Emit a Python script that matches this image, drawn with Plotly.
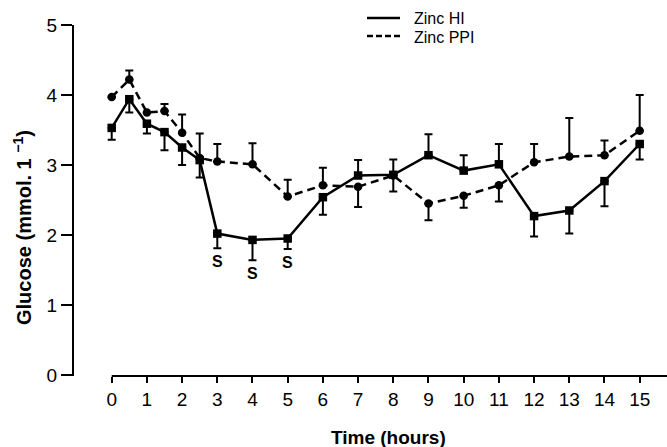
import plotly.graph_objects as go

# ---- data ----
hours = [0, 0.5, 1, 1.5, 2, 2.5, 3, 4, 5, 6, 7, 8, 9, 10, 11, 12, 13, 14, 15]
hi_vals = [3.53, 3.94, 3.59, 3.47, 3.25, 3.07, 2.02, 1.93, 1.95, 2.54, 2.85, 2.86, 3.14, 2.92, 3.01, 2.27, 2.35, 2.77, 3.30]
hi_err_plus = [0, 0, 0, 0, 0, 0, 0, 0, 0, 0, 0.22, 0.22, 0.30, 0.22, 0.29, 0, 0, 0, 0]
hi_err_minus = [0.17, 0.19, 0.14, 0.26, 0.25, 0.25, 0.21, 0.29, 0.15, 0.25, 0, 0, 0, 0, 0, 0.29, 0.33, 0.36, 0.22]
ppi_vals = [3.97, 4.22, 3.75, 3.77, 3.46, 3.10, 3.05, 3.01, 2.55, 2.71, 2.69, 2.85, 2.45, 2.56, 2.71, 3.04, 3.12, 3.14, 3.49]
ppi_err_plus = [0, 0.13, 0, 0.10, 0.26, 0.35, 0.25, 0.30, 0.24, 0.25, 0, 0, 0, 0, 0, 0.26, 0.55, 0.21, 0.51]
ppi_err_minus = [0, 0, 0, 0, 0, 0, 0, 0, 0, 0, 0.29, 0.23, 0.24, 0.17, 0.23, 0, 0, 0, 0]
sig_hours = [3, 4, 5]
sig_label = "S"
x_ticks = list(range(0, 16))
y_ticks = [0, 1, 2, 3, 4, 5]
series_names = ["Zinc HI", "Zinc PPI"]

FONT = "Liberation Sans, Arial, sans-serif"
W, H = 667, 447
ML, MR, MT, MB = 74, 0, 25, 71
PW, PH = W - ML - MR, H - MT - MB


def px_x(p):
    return (p - ML) / PW


def px_y(p):
    return (H - MB - p) / PH


fig = go.Figure()

fig.add_trace(go.Scatter(
    x=hours, y=hi_vals, mode="lines+markers", name=series_names[0],
    line=dict(color="black", width=2.5),
    marker=dict(symbol="square", size=8.5, color="black"),
    error_y=dict(type="data", symmetric=False, array=hi_err_plus, arrayminus=hi_err_minus,
                 color="black", thickness=2, width=4),
    showlegend=False,
))
fig.add_trace(go.Scatter(
    x=hours, y=ppi_vals, mode="lines+markers", name=series_names[1],
    line=dict(color="black", width=2.5, dash="8px,5px"),
    marker=dict(symbol="circle", size=8.5, color="black"),
    error_y=dict(type="data", symmetric=False, array=ppi_err_plus, arrayminus=ppi_err_minus,
                 color="black", thickness=2, width=4),
    showlegend=False,
))

# significance labels under the HI error bars
for h in sig_hours:
    i = hours.index(h)
    fig.add_annotation(x=h, y=hi_vals[i] - hi_err_minus[i], text=sig_label, showarrow=False,
                       yanchor="top", yshift=-3,
                       font=dict(family=FONT, size=16, color="black", weight="bold"))

xmin = -1.071
xmax = 15.776

# x axis line starts at 0
fig.add_shape(type="line", xref="x", yref="paper", x0=0, x1=xmax, y0=0, y1=0,
              line=dict(color="black", width=2))

# custom legend
fig.add_shape(type="line", xref="paper", yref="paper", x0=px_x(367), x1=px_x(400),
              y0=px_y(18), y1=px_y(18), line=dict(color="black", width=2.5))
fig.add_shape(type="line", xref="paper", yref="paper", x0=px_x(367), x1=px_x(400),
              y0=px_y(36), y1=px_y(36), line=dict(color="black", width=2.5, dash="6px,3px"))
fig.add_annotation(xref="paper", yref="paper", x=px_x(412), y=px_y(18), text=series_names[0],
                   showarrow=False, xanchor="left", yanchor="middle",
                   font=dict(family=FONT, size=16, color="black"))
fig.add_annotation(xref="paper", yref="paper", x=px_x(412), y=px_y(37), text=series_names[1],
                   showarrow=False, xanchor="left", yanchor="middle",
                   font=dict(family=FONT, size=16, color="black"))

# axis titles
fig.add_annotation(xref="paper", yref="paper", x=px_x(388), y=px_y(437), text="Time (hours)",
                   showarrow=False, xanchor="center", yanchor="middle",
                   font=dict(family=FONT, size=19, color="black", weight="bold"))
fig.add_annotation(xref="paper", yref="paper", x=px_x(22), y=px_y(228),
                   text="Glucose (mmol. 1 <sup>−1</sup>)", textangle=-90,
                   showarrow=False, xanchor="center", yanchor="middle",
                   font=dict(family=FONT, size=20, color="black", weight="bold"))

fig.update_layout(
    width=W, height=H,
    margin=dict(l=ML, r=MR, t=MT, b=MB, pad=0),
    paper_bgcolor="white", plot_bgcolor="white",
    font=dict(family=FONT, color="black"),
    hovermode=False,
    xaxis=dict(range=[xmin, xmax], showline=False, showgrid=False, zeroline=False,
               ticks="outside", ticklen=6, tickwidth=2, tickcolor="black",
               tickvals=x_ticks, ticktext=[str(t) for t in x_ticks],
               tickfont=dict(family=FONT, size=19, color="black")),
    yaxis=dict(range=[-0.0143, 5.0], showline=True, linewidth=2, linecolor="black",
               showgrid=False, zeroline=False,
               ticks="outside", ticklen=11, tickwidth=2, tickcolor="black",
               tickvals=y_ticks, ticktext=[str(t) for t in y_ticks],
               tickfont=dict(family=FONT, size=19, color="black")),
)

fig.write_html(
    "out.html",
    config={"displayModeBar": False, "staticPlot": True},
    post_script="document.body.style.margin='0px';document.body.style.padding='0px';"
                "document.documentElement.style.overflow='hidden';",
)
